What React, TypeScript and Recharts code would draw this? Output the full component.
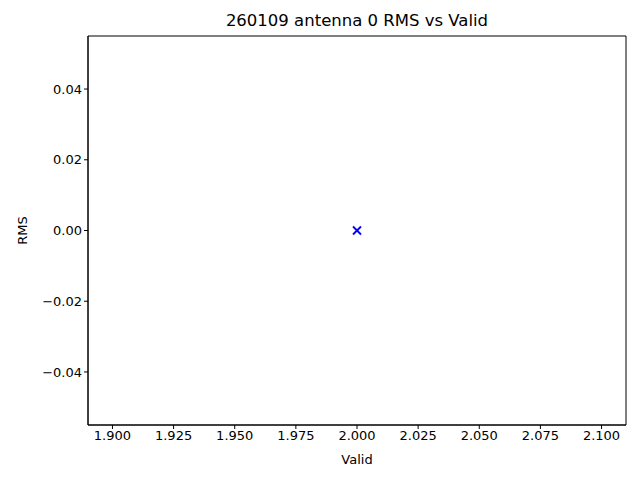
import { ScatterChart, Scatter, XAxis, YAxis, ReferenceArea } from "recharts";

const validValues = [2.0];
const rmsValues = [0.0];
const xTicks = [1.9, 1.925, 1.95, 1.975, 2.0, 2.025, 2.05, 2.075, 2.1];
const yTicks = [-0.04, -0.02, 0.0, 0.02, 0.04];
const xDomain = [1.89, 2.11];
const yDomain = [-0.055, 0.055];

const points = validValues.map((v, i) => ({ valid: v, rms: rmsValues[i] }));

const font = "'DejaVu Sans', sans-serif";
const tickStyle = { fontSize: 13, fill: "#000", fontFamily: font };

const fmtY = (v: number) => {
  const s = Math.abs(v).toFixed(2);
  return v < 0 ? "\u2212" + s : s;
};

function XMarker(props: any) {
  const { cx, cy } = props;
  const r = 4;
  return (
    <g stroke="#0000ff" strokeWidth={1.8}>
      <line x1={cx - r} y1={cy - r} x2={cx + r} y2={cy + r} />
      <line x1={cx - r} y1={cy + r} x2={cx + r} y2={cy - r} />
    </g>
  );
}

export default function App() {
  return (
    <div style={{ position: "absolute", left: 0, top: 0, width: 640, height: 480, background: "#fff" }}>
      <div
        style={{
          position: "absolute",
          left: 88,
          width: 538,
          top: 11,
          textAlign: "center",
          fontFamily: font,
          fontSize: 16.5,
          color: "#000",
        }}
      >
        260109 antenna 0 RMS vs Valid
      </div>
      <ScatterChart width={640} height={480} margin={{ top: 36, right: 14, bottom: 0, left: 0 }}>
        <XAxis
          type="number"
          dataKey="valid"
          domain={xDomain}
          ticks={xTicks}
          tickFormatter={(v: number) => v.toFixed(3)}
          height={55}
          tickSize={4}
          tick={tickStyle}
          stroke="#000"
          interval={0}
          allowDataOverflow
          label={{ value: "Valid", position: "insideBottom", offset: 16, style: { fontSize: 13, fill: "#000", fontFamily: font } }}
        />
        <YAxis
          type="number"
          dataKey="rms"
          domain={yDomain}
          ticks={yTicks}
          tickFormatter={fmtY}
          width={88}
          tickSize={4}
          tick={tickStyle}
          stroke="#000"
          interval={0}
          allowDataOverflow
          label={{ value: "RMS", angle: -90, position: "insideLeft", offset: 22, style: { textAnchor: "middle", fontSize: 13, fill: "#000", fontFamily: font } }}
        />
        <ReferenceArea
          x1={xDomain[0]}
          x2={xDomain[1]}
          y1={yDomain[0]}
          y2={yDomain[1]}
          stroke="#000"
          strokeWidth={1}
          fill="none"
          fillOpacity={0}
          ifOverflow="visible"
        />
        <Scatter data={points} shape={<XMarker />} isAnimationActive={false} />
      </ScatterChart>
    </div>
  );
}
